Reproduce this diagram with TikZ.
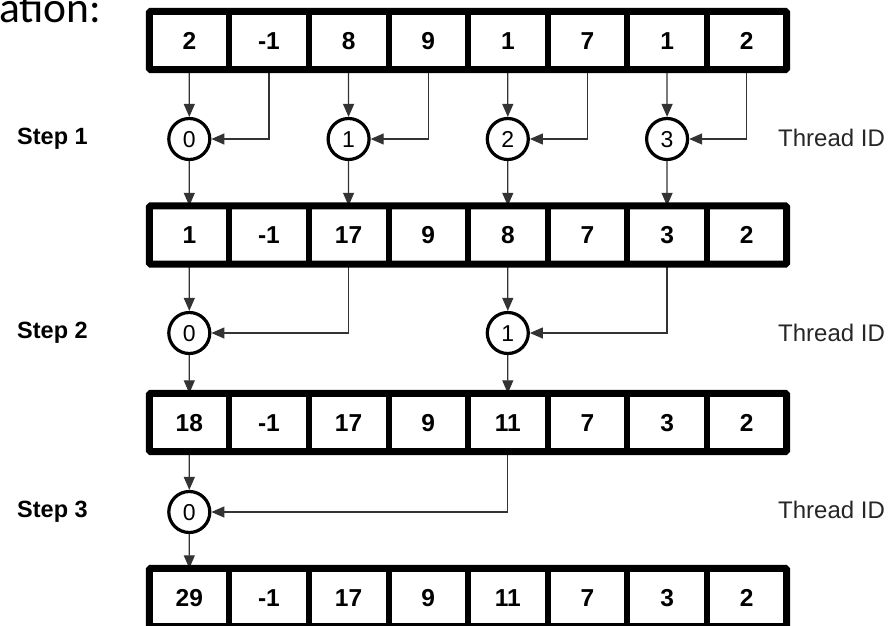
\documentclass[tikz,border=0pt]{standalone}
\usepackage{fontspec}
\setmainfont{Liberation Sans}
\newfontfamily\calib{Carlito}
\usetikzlibrary{arrows.meta}
\begin{document}
\begin{tikzpicture}[x=1pt,y=-1pt,
  cell/.style={minimum width=79.625pt, minimum height=58pt, inner sep=0pt, text height=17.5pt, text depth=0pt, font=\fontsize{24.5}{24.5}\selectfont\bfseries},
  thr/.style={circle, draw, line width=3.2pt, minimum size=41pt, inner sep=0pt, text height=16.5pt, text depth=0pt, font=\fontsize{23}{23}\selectfont},
  conn/.style={draw=black!80, line width=1.3pt, -{Triangle[length=13pt,width=11pt]}},
  steplbl/.style={font=\fontsize{23.5}{23.5}\selectfont\bfseries, anchor=west, inner sep=0pt},
  tid/.style={font=\fontsize{24}{24}\selectfont, anchor=west, inner sep=0pt, text=black!85},
  arrbox/.style={line width=7pt, rounded corners=1.5pt},
  divline/.style={line width=6pt}
]
\useasboundingbox (0,0) rectangle (892,626);
\node[anchor=base west, inner sep=0pt, font=\calib\fontsize{43.5}{43.5}\selectfont] (title) at (-1,23) {ation:};

% cells
\foreach \v [count=\i] in {2,-1,8,9,1,7,1,2}
  \node[cell] (a\i) at ({149.5+79.625*(\i-0.5)},40.5) {\v};
\foreach \v [count=\i] in {1,-1,17,9,8,7,3,2}
  \node[cell] (b\i) at ({149.5+79.625*(\i-0.5)},235) {\v};
\foreach \v [count=\i] in {18,-1,17,9,11,7,3,2}
  \node[cell] (c\i) at ({149.5+79.625*(\i-0.5)},422.5) {\v};
\foreach \v [count=\i] in {29,-1,17,9,11,7,3,2}
  \node[cell] (d\i) at ({149.5+79.625*(\i-0.5)},597.5) {\v};

% thread circles
\node[thr] (s1a) at (189.3,139) {0};
\node[thr] (s1b) at (348.6,139) {1};
\node[thr] (s1c) at (507.8,139) {2};
\node[thr] (s1d) at (667.1,139) {3};
\node[thr] (s2a) at (189.3,333) {0};
\node[thr] (s2b) at (507.8,333) {1};
\node[thr] (s3a) at (189.3,512) {0};

% labels
\node[steplbl] (l1) at (17,139) {Step 1};
\node[steplbl] (l2) at (17,333) {Step 2};
\node[steplbl] (l3) at (17,512) {Step 3};
\node[tid] (t1) at (778,138) {Thread ID};
\node[tid] (t2) at (778,333) {Thread ID};
\node[tid] (t3) at (778,510) {Thread ID};

% step 1 connectors
\draw[conn] (a1.south) -- (s1a);
\draw[conn] (a2.south) |- (s1a);
\draw[conn] (a3.south) -- (s1b);
\draw[conn] (a4.south) |- (s1b);
\draw[conn] (a5.south) -- (s1c);
\draw[conn] (a6.south) |- (s1c);
\draw[conn] (a7.south) -- (s1d);
\draw[conn] (a8.south) |- (s1d);
\draw[conn] (s1a) -- (b1.north);
\draw[conn] (s1b) -- (b3.north);
\draw[conn] (s1c) -- (b5.north);
\draw[conn] (s1d) -- (b7.north);
% step 2
\draw[conn] (b1.south) -- (s2a);
\draw[conn] (b3.south) |- (s2a);
\draw[conn] (b5.south) -- (s2b);
\draw[conn] (b7.south) |- (s2b);
\draw[conn] (s2a) -- (c1.north);
\draw[conn] (s2b) -- (c5.north);
% step 3
\draw[conn] (c1.south) -- (s3a);
\draw[conn] (c5.south) |- (s3a);
\draw[conn] (s3a) -- (d1.north);

% array borders
\foreach \r in {a,b,c,d}{
  \draw[arrbox] (\r1.north west) rectangle (\r8.south east);
  \foreach \k in {1,...,7}
    \draw[divline] (\r\k.north east) -- (\r\k.south east);
}
\end{tikzpicture}
\end{document}
